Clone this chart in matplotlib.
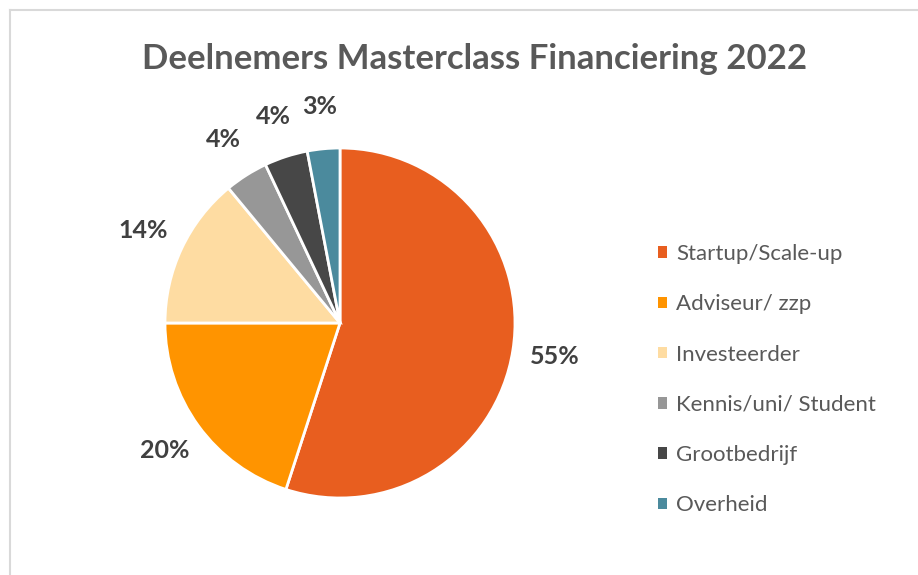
import matplotlib
matplotlib.use("Agg")
import matplotlib.pyplot as plt
from matplotlib.patches import Patch
from matplotlib.lines import Line2D

categories = ["Startup/Scale-up", "Adviseur/ zzp", "Investeerder",
              "Kennis/uni/ Student", "Grootbedrijf", "Overheid"]
values = [55, 20, 14, 4, 4, 3]
colors = ["#E85E1F", "#FF9400", "#FEDCA2", "#979797", "#474747", "#4B8A9D"]
title = "Deelnemers Masterclass Financiering 2022"

W, H = 918, 575
fig = plt.figure(figsize=(W / 100, H / 100), dpi=100)
fig.patch.set_facecolor("white")

# chart frame (grey border top/left)
fig.add_artist(Line2D([10 / W, 10 / W], [0, 1 - 10 / H], transform=fig.transFigure,
                      color="#D9D9D9", lw=1.5))
fig.add_artist(Line2D([10 / W, 1], [1 - 10 / H, 1 - 10 / H], transform=fig.transFigure,
                      color="#D9D9D9", lw=1.5))

# pie axes: center (340, 323), radius 175 px
cx, cy, r = 340, 323, 175
ax = fig.add_axes([(cx - r) / W, 1 - (cy + r) / H, 2 * r / W, 2 * r / H])
wedges, texts = ax.pie(values, colors=colors, startangle=90, counterclock=False,
                       radius=1.0, labels=[f"{v}%" for v in values],
                       labeldistance=1.24,
                       wedgeprops=dict(edgecolor="white", linewidth=2),
                       textprops=dict(fontsize=18, fontweight="bold", color="#404040",
                                      family="Lato"))
for t in texts:
    t.set_ha("center")
    t.set_va("center")
ax.set_xlim(-1, 1)
ax.set_ylim(-1, 1)
ax.set_aspect("equal")
ax.axis("off")

fig.text(475 / W, 1 - 59 / H, title, ha="center", va="center",
         fontsize=25, fontweight="bold", color="#595959", family="Lato")

handles = [Patch(facecolor=c, edgecolor="none") for c in colors]
leg = fig.legend(handles, categories, loc="upper left",
                 bbox_to_anchor=(647 / W, 1 - 233 / H), frameon=False,
                 prop=dict(family="Lato", size=16), labelcolor="#595959",
                 handlelength=0.42, handleheight=0.42, handletextpad=0.4,
                 labelspacing=1.36, borderpad=0)

fig.savefig("out.png", dpi=100, facecolor="white")
